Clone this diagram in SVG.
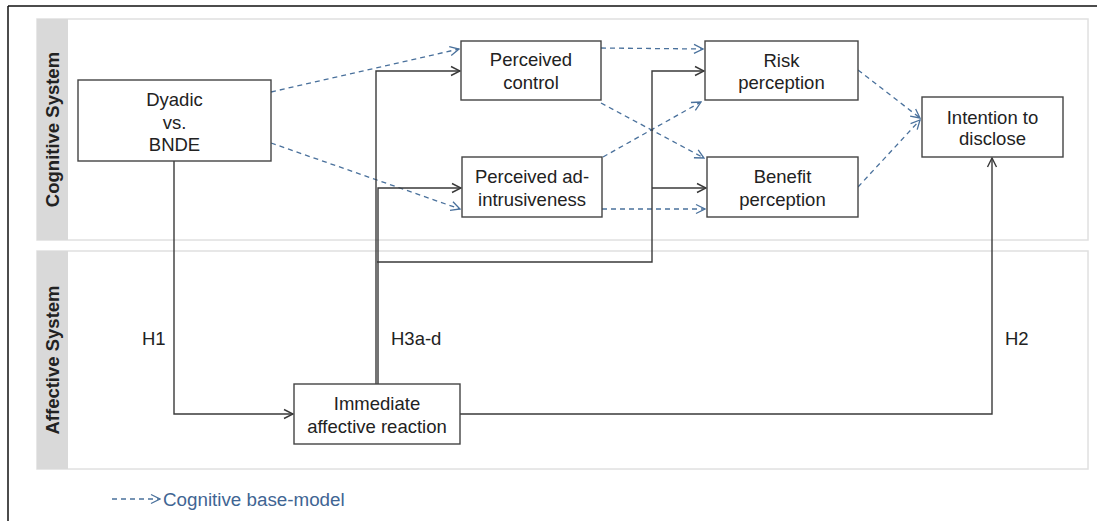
<svg xmlns="http://www.w3.org/2000/svg" width="1097" height="521" viewBox="0 0 1097 521">
<style>
.panel{fill:#ffffff;stroke:#e0e0e0;stroke-width:1.5}
.strip{fill:#d9d9d9}
.box{fill:#ffffff;stroke:#444444;stroke-width:1.4}
.t{font-family:"Liberation Sans",Arial,sans-serif;font-size:18.5px;fill:#222222;text-anchor:middle}
.lab{font-family:"Liberation Sans",Arial,sans-serif;font-size:18.5px;fill:#222222}
.sys{font-family:"Liberation Sans",Arial,sans-serif;font-size:18.5px;font-weight:bold;fill:#222222;text-anchor:middle}
.solid{fill:none;stroke:#3a3a3a;stroke-width:1.4}
.dash{fill:none;stroke:#4a719c;stroke-width:1.3;stroke-dasharray:5,4}
.leg{font-family:"Liberation Sans",Arial,sans-serif;font-size:18.8px;fill:#3f6593}
</style>
<defs>
<marker id="ab" markerUnits="userSpaceOnUse" markerWidth="12" markerHeight="12" viewBox="0 0 12 12" refX="11" refY="6" orient="auto">
<path d="M2,1.5 L11,6 L2,10.5" fill="none" stroke="#3a3a3a" stroke-width="1.4"/>
</marker>
<marker id="ablue" markerUnits="userSpaceOnUse" markerWidth="12" markerHeight="12" viewBox="0 0 12 12" refX="11" refY="6" orient="auto">
<path d="M2,1.5 L11,6 L2,10.5" fill="none" stroke="#4a719c" stroke-width="1.3"/>
</marker>
</defs>
<rect width="1097" height="521" fill="#ffffff"/>
<g id="frame">
<line x1="8" y1="6" x2="1097" y2="6" stroke="#111" stroke-width="1.5"/>
<line x1="8" y1="6" x2="8" y2="521" stroke="#111" stroke-width="1.5"/>
</g>
<g id="cognitive-panel">
<rect class="panel" x="37" y="19" width="1051" height="221"/>
<rect class="strip" x="37" y="19" width="31" height="221"/>
<text class="sys" transform="translate(59,129.5) rotate(-90)">Cognitive System</text>
</g>
<g id="affective-panel">
<rect class="panel" x="37" y="251" width="1051" height="218"/>
<rect class="strip" x="37" y="251" width="31" height="218"/>
<text class="sys" transform="translate(59,360) rotate(-90)">Affective System</text>
</g>
<g id="connectors">
<path class="dash" d="M271,92 L459,49" marker-end="url(#ablue)"/>
<path class="dash" d="M271,143 L460,209" marker-end="url(#ablue)"/>
<path class="dash" d="M601,48 L703,49" marker-end="url(#ablue)"/>
<path class="dash" d="M601,103 L704,158" marker-end="url(#ablue)"/>
<path class="dash" d="M603,157 L701,102" marker-end="url(#ablue)"/>
<path class="dash" d="M602,209 L705,209" marker-end="url(#ablue)"/>
<path class="dash" d="M858,70 L920,118" marker-end="url(#ablue)"/>
<path class="dash" d="M858,187 L920,120" marker-end="url(#ablue)"/>
<path class="solid" d="M174,161 V414 H293" marker-end="url(#ab)"/>
<path class="solid" d="M376,384 V71 H460" marker-end="url(#ab)"/>
<path class="solid" d="M378,384 V188 H461" marker-end="url(#ab)"/>
<path class="solid" d="M377,262 H652 V71 H704" marker-end="url(#ab)"/>
<path class="solid" d="M652,188 H706" marker-end="url(#ab)"/>
<path class="solid" d="M460,414 H992 V158" marker-end="url(#ab)"/>
<text class="lab" x="142" y="345">H1</text>
<text class="lab" x="391" y="345">H3a-d</text>
<text class="lab" x="1005" y="345">H2</text>
</g>
<g id="dyadic">
<rect class="box" x="78" y="80" width="193" height="81"/>
<text class="t" x="174.5" y="105.5">Dyadic</text>
<text class="t" x="174.5" y="128.5">vs.</text>
<text class="t" x="174.5" y="150.5">BNDE</text>
</g>
<g id="perceived-control">
<rect class="box" x="461" y="41" width="140" height="59"/>
<text class="t" x="531" y="65.5">Perceived</text>
<text class="t" x="531" y="88.5">control</text>
</g>
<g id="perceived-ad-intrusiveness">
<rect class="box" x="462" y="157" width="140" height="60"/>
<text class="t" x="532" y="182.5">Perceived ad-</text>
<text class="t" x="532" y="205.5">intrusiveness</text>
</g>
<g id="risk-perception">
<rect class="box" x="705" y="41" width="153" height="59"/>
<text class="t" x="781.5" y="66.5">Risk</text>
<text class="t" x="781.5" y="88.5">perception</text>
</g>
<g id="benefit-perception">
<rect class="box" x="707" y="157" width="151" height="60"/>
<text class="t" x="782.5" y="182.5">Benefit</text>
<text class="t" x="782.5" y="205.5">perception</text>
</g>
<g id="intention">
<rect class="box" x="922" y="97" width="141" height="60"/>
<text class="t" x="992.5" y="123.5">Intention to</text>
<text class="t" x="992.5" y="145">disclose</text>
</g>
<g id="immediate">
<rect class="box" x="294" y="384" width="166" height="60"/>
<text class="t" x="377" y="409.5">Immediate</text>
<text class="t" x="377" y="432.5">affective reaction</text>
</g>
<g id="legend">
<path class="dash" d="M112,499 H160" stroke-dasharray="4,3" marker-end="url(#ablue)"/>
<text class="leg" x="163" y="506">Cognitive base-model</text>
</g>
</svg>
